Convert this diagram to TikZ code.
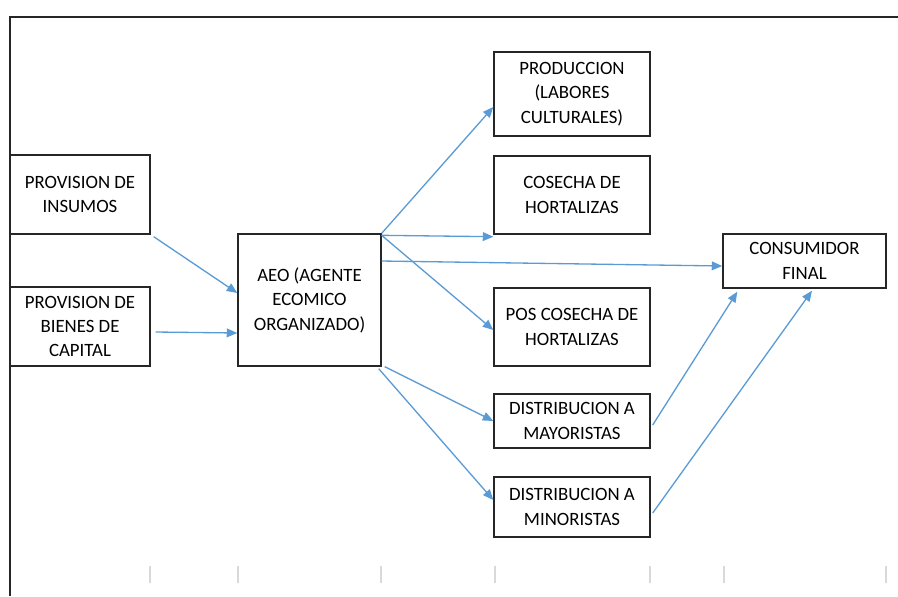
\documentclass[tikz,border=0pt]{standalone}
\usepackage{fontspec}
\setmainfont{Carlito}
\usepackage{tikz}
\usetikzlibrary{calc}
\usetikzlibrary{arrows.meta}
\tikzset{caja/.style={draw=black!85, line width=0.8pt, fill=white, align=center, inner sep=2pt,
  font=\fontsize{10.7}{13.9}\selectfont}}
\tikzset{flecha/.style={draw={rgb,255:red,91;green,155;blue,213}, line width=0.75pt,
  -{Triangle[length=6pt,width=5pt]}}}
\tikzset{linea/.style={draw={rgb,255:red,91;green,155;blue,213}, line width=0.75pt}}

\begin{document}
\begin{tikzpicture} [x=0.02cm, y=-0.02cm]
\useasboundingbox (0,0) rectangle (898,596);
\draw[black!85, line width=1pt] (10,596)--(10,17)--(898,17);
\foreach \x in {150,238,381,495,650,724,886} {
 \draw[black!15, line width=0.6pt] (\x,566)--(\x,583);
}
\node[caja, minimum width=2.8cm, minimum height=1.58cm] (ins) at (80,194.5) {PROVISION DE\\INSUMOS};
\node[caja, minimum width=2.8cm, minimum height=1.58cm] (bie) at (80,326.5) {PROVISION DE\\BIENES DE\\CAPITAL};
\node[caja, minimum width=2.86cm, minimum height=2.64cm] (aeo) at (309.5,300) {AEO (AGENTE\\ECOMICO\\ORGANIZADO)};
\node[caja, minimum width=3.12cm, minimum height=1.68cm] (prod) at (572,94) {PRODUCCION\\(LABORES\\CULTURALES)};
\node[caja, minimum width=3.12cm, minimum height=1.56cm] (cos) at (572,195) {COSECHA DE\\HORTALIZAS};
\node[caja, minimum width=3.12cm, minimum height=1.56cm] (pos) at (572,327) {POS COSECHA DE\\HORTALIZAS};
\node[caja, minimum width=3.12cm, minimum height=1.08cm] (may) at (572,421) {DISTRIBUCION A\\MAYORISTAS};
\node[caja, minimum width=3.12cm, minimum height=1.2cm] (min) at (572,507) {DISTRIBUCION A\\MINORISTAS};
\node[caja, minimum width=3.26cm, minimum height=1.08cm] (con) at (804.5,261) {CONSUMIDOR\\FINAL};

\draw[flecha] ([shift={(0.06cm,-0.04cm)}]ins.south east) -- ([yshift=0.14cm]aeo.west);
\draw[flecha] ([shift={(0.1cm,-0.11cm)}]bie.east) -- ([yshift=-0.66cm]aeo.west);
\draw[flecha] (aeo.north east) -- ([yshift=-0.26cm]prod.west);
\draw[flecha] ([yshift=-0.04cm]aeo.north east) -- ([yshift=-0.04cm]cos.south west);
\draw[flecha] ([yshift=-0.04cm]aeo.north east) -- ([yshift=-0.06cm]pos.west);
\draw[flecha] ([yshift=0.78cm]aeo.east) -- ([yshift=-0.1cm]con.west);
\draw[flecha] ([xshift=0.06cm]aeo.south east) -- (may.west);
\draw[flecha] ([shift={(-0.06cm,-0.04cm)}]aeo.south east) -- ([yshift=0.14cm]min.west);
\draw[flecha] ([shift={(0.04cm,-0.08cm)}]may.east) -- ([shift={(0.3cm,-0.06cm)}]con.south west);
\draw[flecha] ([shift={(0.04cm,-0.12cm)}]min.east) -- ([shift={(0.15cm,-0.04cm)}]con.south);
\end{tikzpicture}
\end{document}
